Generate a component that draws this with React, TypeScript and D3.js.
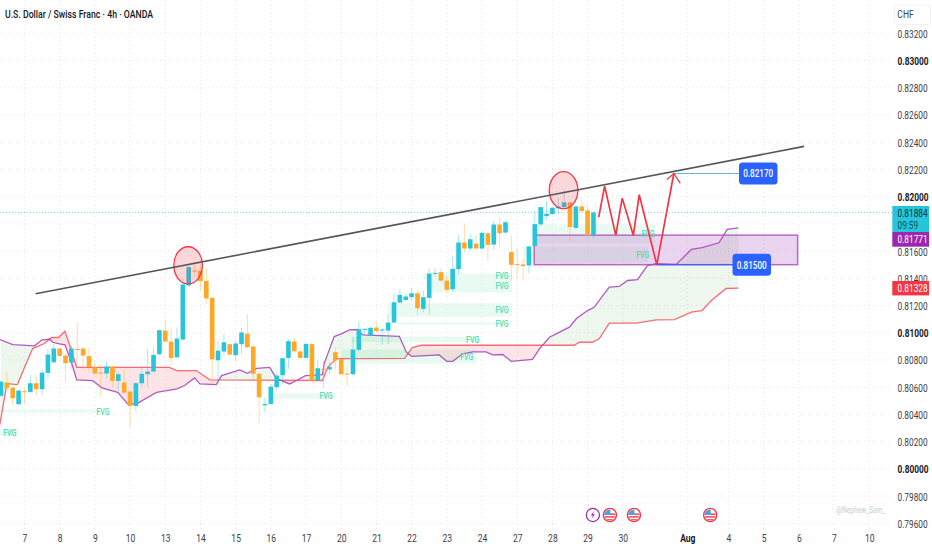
import React, { useEffect, useRef } from "react";
import * as d3 from "d3";

const WIDTH = 932;
const HEIGHT = 550;
const SQUEEZE = 0.74;

const priceTicks = d3.range(0, 19).map(k => 0.796 + k * 0.002);
const dayBars = [4, 10, 16, 22, 28, 34, 40, 46, 52, 58, 64, 70, 76, 82, 88, 94, 100, 106, 117, 124, 130, 136, 142, 148];
const dayLabels = ["7", "8", "9", "10", "13", "14", "15", "16", "17", "20", "21", "22", "23", "24", "27", "28", "29", "30", "Aug", "4", "5", "6", "7", "10"];

// open, high, low, close for each 4h bar
const candles: [number, number, number, number][] = [
  [0.80536, 0.80649, 0.80526, 0.80641], [0.80634, 0.8071, 0.80587, 0.80595], [0.80597, 0.80597, 0.80465, 0.80519],
  [0.80475, 0.8058, 0.80465, 0.80575], [0.8057, 0.80587, 0.80477, 0.80565], [0.80565, 0.80688, 0.80555, 0.80629],
  [0.80629, 0.80685, 0.80538, 0.80585], [0.80585, 0.80734, 0.80538, 0.80707], [0.80705, 0.80879, 0.80658, 0.8084],
  [0.80783, 0.80918, 0.80776, 0.80884], [0.80884, 0.80889, 0.8082, 0.8083], [0.80832, 0.80845, 0.80636, 0.80776],
  [0.80781, 0.80906, 0.80734, 0.80884], [0.80881, 0.81078, 0.80783, 0.80879], [0.80884, 0.80894, 0.80722, 0.80832],
  [0.8083, 0.80894, 0.8071, 0.80747], [0.80747, 0.80796, 0.80698, 0.807], [0.80707, 0.80747, 0.80533, 0.80703],
  [0.807, 0.80791, 0.80661, 0.80752], [0.80752, 0.80759, 0.806, 0.80646], [0.80646, 0.8071, 0.80575, 0.80695],
  [0.80634, 0.80727, 0.80555, 0.8056], [0.80568, 0.80568, 0.80305, 0.80462], [0.80462, 0.80639, 0.80428, 0.80629],
  [0.80629, 0.80752, 0.80604, 0.80698], [0.80695, 0.80881, 0.806, 0.80715], [0.80715, 0.80889, 0.8071, 0.80837],
  [0.80842, 0.81021, 0.80832, 0.81019], [0.81016, 0.8109, 0.8093, 0.80935], [0.80935, 0.81036, 0.80759, 0.80815],
  [0.8082, 0.81041, 0.80815, 0.80957], [0.8095, 0.81396, 0.80938, 0.81354], [0.81347, 0.81494, 0.81342, 0.81482],
  [0.81457, 0.81519, 0.81413, 0.81452], [0.81455, 0.81494, 0.8131, 0.81379], [0.81381, 0.81477, 0.81212, 0.81252],
  [0.81256, 0.81261, 0.80629, 0.80805], [0.80798, 0.80943, 0.80636, 0.80869], [0.80862, 0.80992, 0.80832, 0.8093],
  [0.80916, 0.80923, 0.80832, 0.8084], [0.80835, 0.80943, 0.80796, 0.80921], [0.80916, 0.81036, 0.80845, 0.81002],
  [0.80994, 0.81139, 0.80889, 0.80894], [0.80899, 0.80913, 0.80661, 0.80698], [0.80698, 0.80703, 0.80337, 0.80526],
  [0.80467, 0.80526, 0.80416, 0.80477], [0.80477, 0.80624, 0.80472, 0.80604], [0.806, 0.8071, 0.80575, 0.80685],
  [0.80688, 0.80815, 0.80624, 0.80813], [0.80815, 0.80955, 0.80734, 0.80938], [0.80935, 0.80967, 0.80854, 0.80864],
  [0.80862, 0.80894, 0.80808, 0.80815], [0.80815, 0.80931, 0.80808, 0.80918], [0.80916, 0.80931, 0.80649, 0.80649],
  [0.80649, 0.80801, 0.80641, 0.80739], [0.80735, 0.80801, 0.80595, 0.8073], [0.8073, 0.80784, 0.80693, 0.80749],
  [0.80857, 0.80894, 0.80727, 0.80796], [0.80806, 0.80808, 0.80693, 0.80695], [0.807, 0.80771, 0.80612, 0.80695],
  [0.80695, 0.80967, 0.8069, 0.80877], [0.80874, 0.81078, 0.80869, 0.81026], [0.81024, 0.81031, 0.8098, 0.81029],
  [0.8098, 0.81046, 0.80972, 0.81036], [0.81038, 0.81078, 0.81004, 0.81012], [0.81016, 0.81036, 0.80911, 0.81024],
  [0.81016, 0.81134, 0.80918, 0.81075], [0.81075, 0.81285, 0.8107, 0.81224], [0.81222, 0.81322, 0.81217, 0.81278],
  [0.81241, 0.81285, 0.81231, 0.81266], [0.81261, 0.81329, 0.81236, 0.8129], [0.8129, 0.8131, 0.81133, 0.8118],
  [0.81175, 0.8131, 0.8115, 0.81261], [0.81256, 0.81476, 0.81133, 0.81435], [0.81435, 0.81476, 0.81413, 0.8144],
  [0.81445, 0.81476, 0.81371, 0.81383], [0.81383, 0.8142, 0.81298, 0.81315], [0.8132, 0.81567, 0.81305, 0.81469],
  [0.81467, 0.81722, 0.81427, 0.81663], [0.81663, 0.818, 0.81592, 0.81619], [0.81619, 0.81726, 0.81599, 0.81687],
  [0.81655, 0.81722, 0.81614, 0.81619], [0.81619, 0.81739, 0.81609, 0.81734], [0.81731, 0.81739, 0.81525, 0.81646],
  [0.81648, 0.81824, 0.81609, 0.81795], [0.81795, 0.81844, 0.81628, 0.81731], [0.81736, 0.81824, 0.81731, 0.81812],
  [0.81593, 0.81715, 0.81384, 0.81499], [0.81504, 0.81617, 0.81396, 0.81499], [0.81502, 0.81543, 0.81384, 0.8149],
  [0.81494, 0.8164, 0.81438, 0.81634], [0.81637, 0.81894, 0.81634, 0.81798], [0.81796, 0.81928, 0.81789, 0.81923],
  [0.81857, 0.81967, 0.81825, 0.81874], [0.81872, 0.81928, 0.81862, 0.81918], [0.81914, 0.81992, 0.8187, 0.81928],
  [0.81923, 0.82051, 0.81918, 0.81958], [0.81958, 0.81958, 0.81678, 0.81776], [0.81771, 0.81928, 0.81757, 0.81928],
  [0.81928, 0.81977, 0.81889, 0.81894], [0.81899, 0.81936, 0.81691, 0.81715], [0.81715, 0.8189, 0.81691, 0.81884],
];

// cloud edges as [bar, price] knots
const spanA: [number, number][] = [
  [-0.2, 0.8095], [2, 0.80913], [5.7, 0.80904], [7, 0.80948], [8.3, 0.80952], [8.8, 0.8093], [10, 0.80918], [10.9, 0.80911],
  [12, 0.80783], [12.9, 0.80654], [15.6, 0.80649], [17.2, 0.80595], [19.9, 0.80562], [21.6, 0.80477], [23.1, 0.80477],
  [26.5, 0.80562], [30, 0.80587], [31.3, 0.80612], [33, 0.80668], [33.9, 0.80624], [36.7, 0.80619], [37.6, 0.80685],
  [40.7, 0.80727], [42, 0.80702], [43.6, 0.80739], [45.8, 0.80746], [47, 0.80663], [49.2, 0.80624], [50.4, 0.80649],
  [51.9, 0.80685], [54.8, 0.80693], [55.1, 0.80773], [56.8, 0.80972], [58, 0.80992], [59.4, 0.81021], [60.8, 0.81024],
  [61.6, 0.80985], [67.9, 0.80974], [69.1, 0.80857], [70, 0.80827], [72.5, 0.80832], [74.7, 0.80837], [76, 0.8079],
  [77, 0.8079], [78.7, 0.80845], [80.4, 0.8086], [82.7, 0.8086], [83.8, 0.80837], [85.5, 0.8084], [87, 0.8079],
  [90.6, 0.80805], [91.8, 0.80881], [93.5, 0.80967], [95.2, 0.81004], [96.9, 0.81041], [98.1, 0.81104], [100, 0.81163],
  [101.1, 0.81187], [103.7, 0.81335], [105.4, 0.8134], [106.8, 0.81384], [108.5, 0.81391], [110.2, 0.81494], [111.7, 0.81507],
  [115.1, 0.81502], [117.7, 0.81612], [119.5, 0.81626], [122.4, 0.81661], [123.8, 0.81759], [125.7, 0.81771],
];
const spanB: [number, number][] = [
  [-0.2, 0.80325], [1, 0.80626], [2.8, 0.80619], [4, 0.80744], [5.4, 0.80884], [7.4, 0.80921], [8.6, 0.80965], [9.8, 0.80965],
  [10.9, 0.81011], [12, 0.80869], [12.9, 0.80746], [28.7, 0.80746], [30, 0.80722], [33.3, 0.80722], [35.6, 0.80654],
  [54.8, 0.80649], [55.7, 0.80746], [57.2, 0.8081], [68.8, 0.80812], [70.1, 0.80891], [71.7, 0.80908], [97.7, 0.80908],
  [98.6, 0.8093], [100.8, 0.8093], [102, 0.80957], [103.7, 0.8107], [108.3, 0.8107], [111.7, 0.81095], [114.8, 0.81097],
  [117.7, 0.81151], [119.5, 0.81163], [121.1, 0.81237], [123.6, 0.81325], [125.7, 0.81328],
];

// fair value gaps: first bar, last bar, top, bottom, bar of the label
const fvgs: [number, number, number, number, number][] = [
  [-0.2, 16.9, 0.80435, 0.80413, 17.4], [-0.2, 2.9, 0.80296, 0.80244, 1.5], [46.4, 56.9, 0.80555, 0.80516, 55.4],
  [71.9, 87.1, 0.81435, 0.81399, 85.4], [73.1, 87.1, 0.81399, 0.81296, 85.4], [66, 87.1, 0.81217, 0.81119, 85.4],
  [67.5, 87.1, 0.81077, 0.8106, 85.4], [59.8, 81.7, 0.80972, 0.8093, 80.4], [58.1, 81, 0.80876, 0.80773, 79.4],
  [91, 111.5, 0.81796, 0.81656, 110.3], [89, 110.3, 0.81634, 0.81516, 109.4],
];

const trendBars = [5.9, 136.9];
const trendPrices = [0.81286, 0.82369];
const zoneBars = [90.9, 135.8];
const zonePrices = [0.81717, 0.815];
const zigzagBars = [101.9, 102.9, 104.8, 105.9, 107.8, 108.8, 111.8, 114.7];
const zigzagPrices = [0.81849, 0.82077, 0.81715, 0.81989, 0.81715, 0.82014, 0.815, 0.8217];
const arrowBars = [113.5, 114.7, 115.8];
const arrowPrices = [0.82125, 0.8217, 0.82098];
const touchBars = [31.9, 95.9];
const touchPrices = [0.81495, 0.82047];
const lastPrice = 0.81884;
const newsFlash = [100.9];
const newsUsd = [103.8, 107.9, 120.9];

const App = () => {
  const ref = useRef<SVGSVGElement>(null);

  useEffect(() => {
    const svg = d3.select(ref.current);
    svg.selectAll("*").remove();
    const font = "Roboto, 'Liberation Sans', sans-serif";
    svg.attr("font-family", font);

    const x = d3.scaleLinear().domain([0, 100]).range([1, 587.6]);
    const y = d3.scaleLinear().domain([0.832, 0.796]).range([33.3, 523.3]);
    const plotRight = 892;

    const label = (px: number, py: number, text: string, size: number, fill: string, weight = 400, anchor = "middle") =>
      svg.append("text")
        .attr("transform", `translate(${px},${py}) scale(${SQUEEZE},1)`)
        .attr("text-anchor", anchor)
        .attr("dominant-baseline", "central")
        .attr("font-size", size)
        .attr("font-weight", weight)
        .attr("fill", fill)
        .text(text);

    // grid
    const grid = svg.append("g").attr("stroke", "#e4e6ea").attr("stroke-dasharray", "1,3");
    priceTicks.forEach(p => grid.append("line").attr("x1", 0).attr("x2", plotRight).attr("y1", y(p)).attr("y2", y(p)));
    dayBars.forEach(b => grid.append("line").attr("x1", x(b)).attr("x2", x(b)).attr("y1", 0).attr("y2", 529));

    // fair value gaps
    fvgs.forEach(([b0, b1, top, bottom]) => {
      svg.append("rect")
        .attr("x", Math.max(0, x(b0))).attr("width", x(b1) - Math.max(0, x(b0)))
        .attr("y", y(top)).attr("height", y(bottom) - y(top))
        .attr("fill", "#d6f5e6").attr("fill-opacity", 0.55);
    });

    // ichimoku cloud
    const aAt = d3.scaleLinear().domain(spanA.map(d => d[0])).range(spanA.map(d => y(d[1])));
    const bAt = d3.scaleLinear().domain(spanB.map(d => d[0])).range(spanB.map(d => y(d[1])));
    const steps = d3.range(0, 125.75, 0.1);
    const greenArea = d3.area<number>().x(d => x(d)).y0(d => aAt(d)).y1(d => Math.max(aAt(d), bAt(d)));
    const redArea = d3.area<number>().x(d => x(d)).y0(d => bAt(d)).y1(d => Math.max(aAt(d), bAt(d)));
    svg.append("path").attr("d", greenArea(steps)).attr("fill", "#4caf50").attr("fill-opacity", 0.1);
    svg.append("path").attr("d", redArea(steps)).attr("fill", "#f23645").attr("fill-opacity", 0.13);

    // supply zone
    svg.append("rect")
      .attr("x", x(zoneBars[0])).attr("width", x(zoneBars[1]) - x(zoneBars[0]))
      .attr("y", y(zonePrices[0])).attr("height", y(zonePrices[1]) - y(zonePrices[0]))
      .attr("fill", "#9c27b0").attr("fill-opacity", 0.2)
      .attr("stroke", "#ba68c8").attr("stroke-width", 1.5);

    // last price line
    svg.append("line").attr("x1", 0).attr("x2", plotRight).attr("y1", y(lastPrice)).attr("y2", y(lastPrice))
      .attr("stroke", "#26c6da").attr("stroke-opacity", 0.6).attr("stroke-dasharray", "1,2");

    const edge = d3.line<[number, number]>().x(d => x(d[0])).y(d => y(d[1]));
    svg.append("path").attr("d", edge(spanB)).attr("fill", "none").attr("stroke", "#f7525f").attr("stroke-opacity", 0.85).attr("stroke-width", 1.3);
    svg.append("path").attr("d", edge(spanA)).attr("fill", "none").attr("stroke", "#ab47bc").attr("stroke-opacity", 0.9).attr("stroke-width", 1.3);

    // candles
    const up = "#26c6da";
    const down = "#ffa726";
    candles.forEach(([o, h, l, c], i) => {
      const colour = c >= o ? up : down;
      svg.append("line").attr("x1", x(i)).attr("x2", x(i)).attr("y1", y(h)).attr("y2", y(l))
        .attr("stroke", colour).attr("stroke-opacity", 0.4).attr("stroke-width", 1);
      const top = y(Math.max(o, c));
      svg.append("rect").attr("x", x(i) - 2.3).attr("width", 4.6).attr("y", top)
        .attr("height", Math.max(1, y(Math.min(o, c)) - top)).attr("fill", colour);
    });

    fvgs.forEach(([, , top, bottom, lb]) => {
      label(x(lb), y((top + bottom) / 2), "FVG", 9.5, "#55dcae", 500);
    });

    // touch circles
    touchBars.forEach((b, i) => {
      svg.append("ellipse").attr("cx", x(b)).attr("cy", y(touchPrices[i])).attr("rx", 14.3).attr("ry", 18.6)
        .attr("fill", "#f23645").attr("fill-opacity", 0.2).attr("stroke", "#f23645").attr("stroke-width", 1.3);
    });

    // trend line
    svg.append("line")
      .attr("x1", x(trendBars[0])).attr("y1", y(trendPrices[0]))
      .attr("x2", x(trendBars[1])).attr("y2", y(trendPrices[1]))
      .attr("stroke", "#55555a").attr("stroke-width", 1.6);

    // price notes
    const noteEnd = zigzagBars.length - 1;
    svg.append("line").attr("x1", x(zigzagBars[noteEnd])).attr("x2", 739).attr("y1", y(zigzagPrices[noteEnd])).attr("y2", y(zigzagPrices[noteEnd]))
      .attr("stroke", "#5fb6e6").attr("stroke-width", 1);
    svg.append("line").attr("x1", x(zigzagBars[6])).attr("x2", 733).attr("y1", y(zonePrices[1])).attr("y2", y(zonePrices[1]))
      .attr("stroke", "#2962ff").attr("stroke-width", 1);

    // projected path
    const path = d3.line<number>().x(d => x(d)).y((_, i) => y(zigzagPrices[i]));
    svg.append("path").attr("d", path(zigzagBars)).attr("fill", "none").attr("stroke", "#f23645").attr("stroke-width", 1.7);
    const head = d3.line<number>().x(d => x(d)).y((_, i) => y(arrowPrices[i]));
    svg.append("path").attr("d", head(arrowBars)).attr("fill", "none").attr("stroke", "#f23645").attr("stroke-width", 1.3);

    const note = (left: number, price: number, text: string) => {
      svg.append("rect").attr("x", left).attr("y", y(price) - 11).attr("width", 38.5).attr("height", 22).attr("rx", 3.5).attr("fill", "#2962ff");
      label(left + 19.2, y(price), text, 11, "#ffffff", 500);
    };
    note(739, zigzagPrices[noteEnd], "0.82170");
    note(732.5, zonePrices[1], "0.81500");

    // axes
    const yAxis = svg.append("g").attr("transform", "translate(897.5,0)").call(
      d3.axisRight(y).tickValues(priceTicks).tickSize(0).tickFormat(d3.format(".5f") as any)
    );
    yAxis.select(".domain").remove();
    yAxis.selectAll<SVGTextElement, number>("text")
      .attr("x", 0).attr("dy", "0.35em").attr("transform", `scale(${SQUEEZE},1)`)
      .attr("font-family", font).attr("font-size", 11.2)
      .attr("font-weight", d => (Math.round(d * 1000) % 10 === 0 ? 700 : 400))
      .attr("fill", d => (Math.round(d * 1000) % 10 === 0 ? "#131722" : "#3c4048"));

    const xAxis = svg.append("g").attr("transform", "translate(0,531)").call(
      d3.axisBottom(x).tickValues(dayBars).tickSize(0).tickFormat((_, i) => dayLabels[i])
    );
    xAxis.select(".domain").remove();
    xAxis.selectAll<SVGTextElement, number>("text")
      .attr("y", 7).attr("dy", "0.35em").attr("transform", `scale(${SQUEEZE},1)`)
      .attr("font-family", font).attr("font-size", 11.5)
      .attr("font-weight", (_, i) => (dayLabels[i] === "Aug" ? 700 : 400))
      .attr("fill", (_, i) => (dayLabels[i] === "Aug" ? "#131722" : "#3c4048"));

    // right side price tags
    const tag = (top: number, height: number, fill: string) =>
      svg.append("rect").attr("x", 892.3).attr("y", top).attr("width", 36.8).attr("height", height).attr("fill", fill);
    tag(206, 26, "#26c6da");
    label(897.5, 213, "0.81884", 11.2, "#14323a", 400, "start");
    label(897.5, 225.3, "09:59", 11.2, "#14505c", 400, "start");
    tag(232, 14.7, "#9c27b0");
    label(897.5, 239.4, "0.81771", 11.2, "#ffffff", 400, "start");
    tag(281, 14.4, "#f23645");
    label(897.5, 288.2, "0.81328", 11.2, "#ffffff", 400, "start");

    // currency button
    svg.append("rect").attr("x", 894.5).attr("y", 5).attr("width", 36).attr("height", 19.5).attr("rx", 3)
      .attr("fill", "#ffffff").attr("stroke", "#eef0f3");
    label(905.5, 14.5, "CHF", 11.5, "#3c4048");

    // news markers
    const markerY = 515;
    newsFlash.forEach(b => {
      const g = svg.append("g").attr("transform", `translate(${x(b)},${markerY})`);
      g.append("circle").attr("r", 6.6).attr("fill", "#fff").attr("stroke", "#9c27b0").attr("stroke-width", 1.2);
      g.append("path").attr("d", "M1.2,-4 L-2,0.6 L0,0.6 L-1.2,4 L2,-0.8 L0,-0.8 Z").attr("fill", "#9c27b0");
    });
    newsUsd.forEach((b, k) => {
      const g = svg.append("g").attr("transform", `translate(${x(b)},${markerY})`);
      const id = `usd-${k}`;
      g.append("clipPath").attr("id", id).append("circle").attr("r", 5.6);
      const flag = g.append("g").attr("clip-path", `url(#${id})`);
      flag.append("rect").attr("x", -7).attr("y", -7).attr("width", 14).attr("height", 14).attr("fill", "#fff");
      [-1.5, 1.2, 4.2].forEach(s => flag.append("rect").attr("x", -7).attr("y", s).attr("width", 14).attr("height", 1.4).attr("fill", "#f23645"));
      flag.append("rect").attr("x", -7).attr("y", -7).attr("width", 7.5).attr("height", 7).attr("fill", "#42a5e8");
      g.append("circle").attr("r", 6.6).attr("fill", "none").attr("stroke", "#f23645").attr("stroke-width", 1.3);
    });

    // header and watermark
    label(5, 14.3, "U.S. Dollar / Swiss Franc · 4h · OANDA", 11.8, "#131722", 500, "start");
    label(836, 510, "@Nephew_Sam_", 9, "#c9ccd2", 400, "start");
  }, []);

  return <svg ref={ref} width={WIDTH} height={HEIGHT} style={{ position: "absolute", left: 0, top: 0, display: "block", background: "#fff" }} />;
};

export default App;
